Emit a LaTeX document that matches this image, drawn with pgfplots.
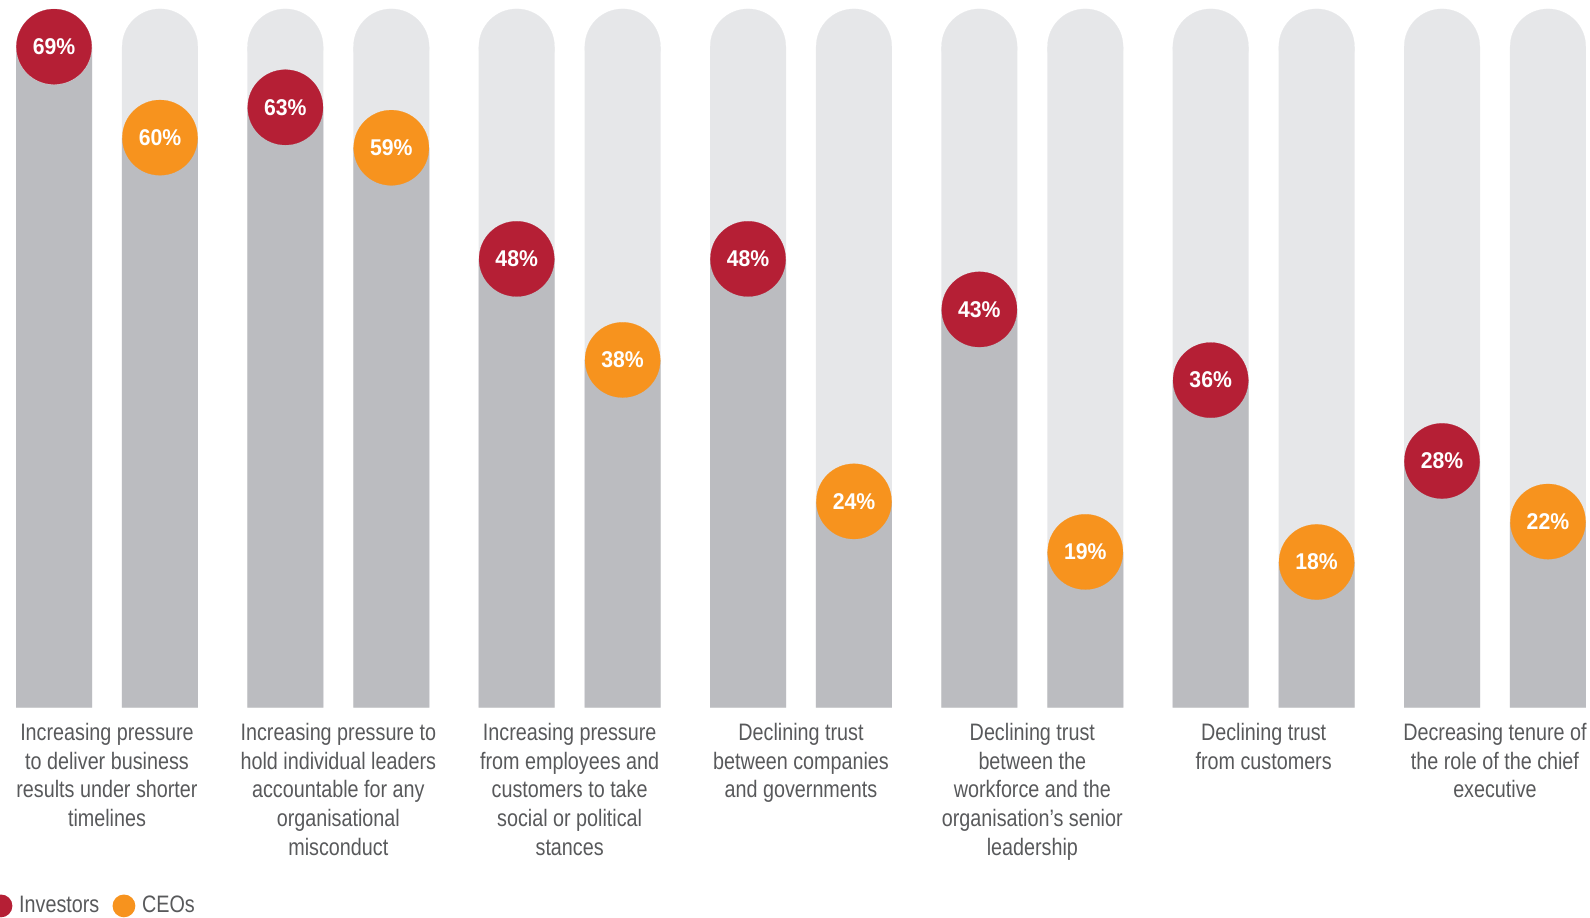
\documentclass[border=0pt]{standalone}
\usepackage{pgfplots}
\usepackage{pgfplotstable}
\pgfplotsset{compat=1.18}
\usepackage{fontspec}
\setmainfont{Liberation Sans}[FakeStretch=0.83]
\newfontfamily\valfont{Liberation Sans}[FakeStretch=0.93]
\definecolor{cinv}{HTML}{B51F35}
\definecolor{cceo}{HTML}{F7931E}
\definecolor{cbar}{HTML}{BBBCC0}
\definecolor{cbg}{HTML}{E6E7E9}
\definecolor{ctext}{HTML}{58595B}

\pgfplotstableread{
g xinv xceo inv ceo bg
0 -0.229 0.229 69 60 69
1 0.771 1.229 63 59 69
2 1.771 2.229 48 38 69
3 2.771 3.229 48 24 69
4 3.771 4.229 43 19 69
5 4.771 5.229 36 18 69
6 5.771 6.229 28 22 69
}\datatable

\begin{document}
\begin{tikzpicture}
\begin{axis}[
  name=ax,
  scale only axis,
  width=795pt, height=349.6pt,
  xmin=-0.46254, xmax=6.41075,
  ymin=3.6, ymax=72.8,
  axis line style={draw=none},
  major tick style={draw=none},
  ytick=\empty,
  xtick={0,1,2,3,4,5,6},
  xticklabels={
    {Increasing pressure\\to deliver business\\results under shorter\\timelines},
    {Increasing pressure to\\hold individual leaders\\accountable for any\\organisational\\misconduct},
    {Increasing pressure\\from employees and\\customers to take\\social or political\\stances},
    {Declining trust\\between companies\\and governments},
    {Declining trust\\between the\\workforce and the\\organisation’s senior\\leadership},
    {Declining trust\\from customers},
    {Decreasing tenure of\\the role of the chief\\executive}},
  xticklabel style={anchor=north, inner sep=0pt, yshift=-7.75pt, align=center,
    text=ctext, font=\fontsize{11.9}{14.3}\selectfont},
  /pgf/number format/assume math mode=true,
  legend image code/.code={\fill[#1, draw=none] (0pt,-0.2pt) circle (5.7pt);},
  legend style={draw=none, fill=none, inner sep=0pt, row sep=0pt,
    nodes={inner sep=0pt, text=ctext, font=\fontsize{11.9}{14.3}\selectfont},
    /tikz/every odd column/.style={column sep=3.4pt},
    /tikz/every even column/.style={column sep=6.6pt},
    at={(rel axis cs:0,0)}, anchor=west, xshift=-5.4pt, yshift=-99.2pt},
  legend columns=2,
  legend cell align=left,
]
% background tracks
\addplot[ybar, bar width=38pt, bar shift=0pt, fill=cbg, draw=none, forget plot] table[x=xinv,y=bg]{\datatable};
\addplot[ybar, bar width=38pt, bar shift=0pt, fill=cbg, draw=none, forget plot] table[x=xceo,y=bg]{\datatable};
\addplot[only marks, color=cbg, mark=*, mark size=18.9pt, mark options={fill=cbg, draw=cbg, line width=0.1pt}, forget plot] table[x=xinv,y=bg]{\datatable};
\addplot[only marks, color=cbg, mark=*, mark size=18.9pt, mark options={fill=cbg, draw=cbg, line width=0.1pt}, forget plot] table[x=xceo,y=bg]{\datatable};
% value bars
\addplot[ybar, bar width=38pt, bar shift=0pt, fill=cbar, draw=none, forget plot] table[x=xinv,y=inv]{\datatable};
\addplot[ybar, bar width=38pt, bar shift=0pt, fill=cbar, draw=none, forget plot] table[x=xceo,y=ceo]{\datatable};
% circles with labels
\addplot[only marks, color=cinv, mark=*, mark size=18.8pt, mark options={fill=cinv, draw=cinv, line width=0.1pt}, forget plot,
  nodes near coords={\pgfmathprintnumber{\pgfplotspointmeta}\%},
  nodes near coords style={anchor=center, text=white, inner sep=0pt, font=\valfont\bfseries\fontsize{11.4}{13}\selectfont}]
  table[x=xinv,y=inv]{\datatable};
\addplot[only marks, color=cceo, mark=*, mark size=18.8pt, mark options={fill=cceo, draw=cceo, line width=0.1pt}, forget plot,
  nodes near coords={\pgfmathprintnumber{\pgfplotspointmeta}\%},
  nodes near coords style={anchor=center, text=white, inner sep=0pt, font=\valfont\bfseries\fontsize{11.4}{13}\selectfont}]
  table[x=xceo,y=ceo]{\datatable};
\addlegendimage{fill=cinv}
\addlegendentry{Investors}
\addlegendimage{fill=cceo}
\addlegendentry{CEOs}
\end{axis}
\pgfresetboundingbox
\path[use as bounding box] ([yshift=-104.75pt]ax.south west) rectangle ([yshift=4.15pt]ax.north east);
\end{tikzpicture}
\end{document}
